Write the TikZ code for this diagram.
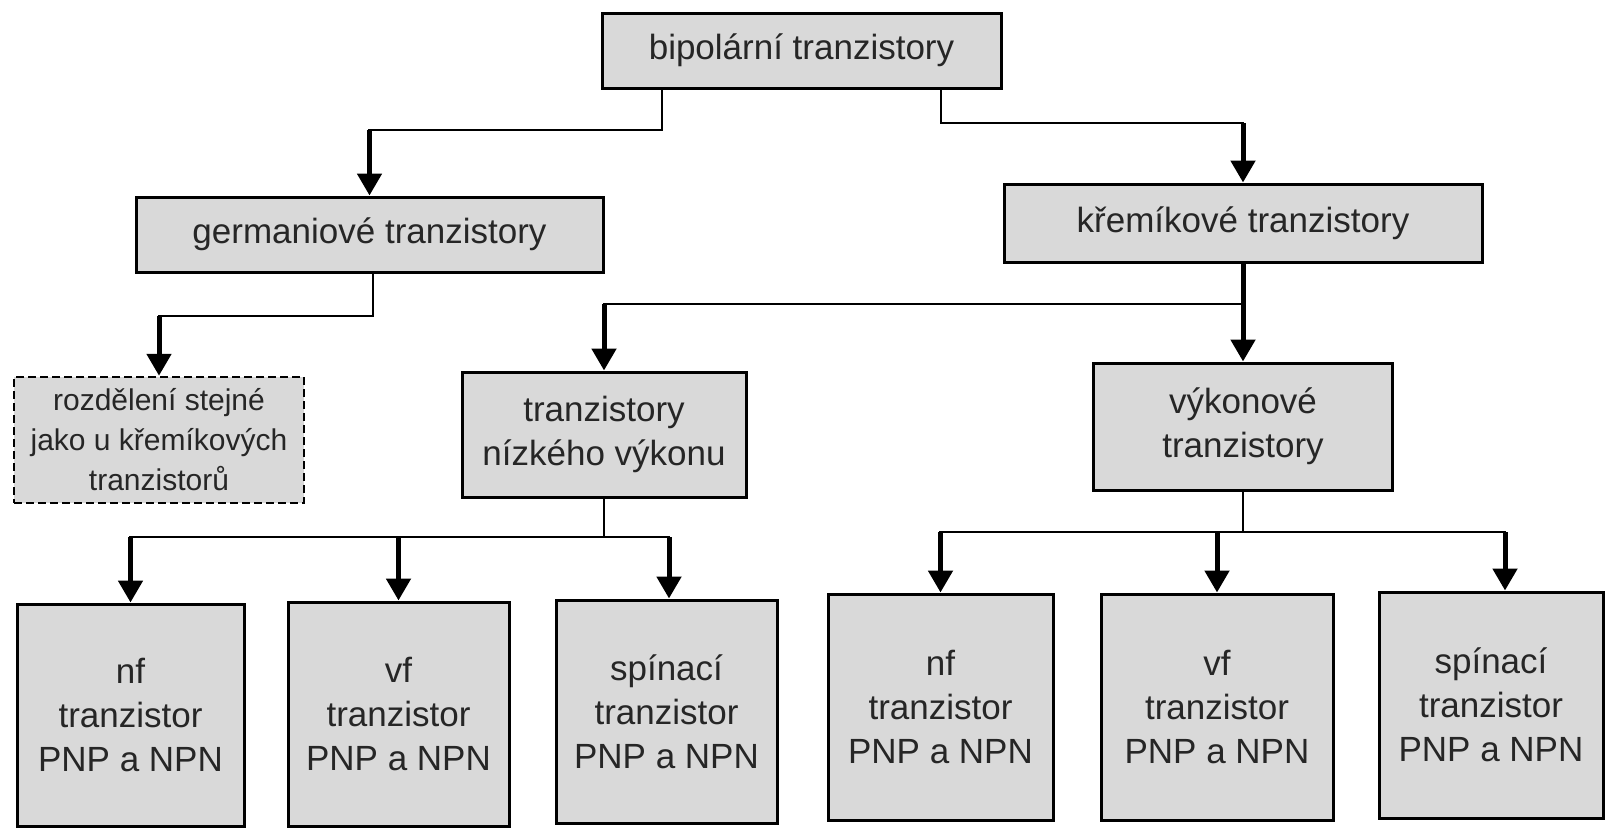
\documentclass[tikz,border=0pt]{standalone}
\usepackage{fontspec}
\setmainfont{Liberation Sans}
\usetikzlibrary{arrows.meta}
\definecolor{boxfill}{HTML}{D9D9D9}
\definecolor{ink}{HTML}{262626}
\begin{document}
\begin{tikzpicture}[x=1pt,y=-1pt,
  box/.style={draw=black, line width=3pt, fill=boxfill, text=ink, align=center, inner sep=0pt,
    font=\fontsize{35}{44}\selectfont},
  dbox/.style={box, line width=2.5pt, dash pattern=on 8pt off 4pt, font=\fontsize{30}{40}\selectfont},
  sz/.style 2 args={minimum width=#1, minimum height=#2},
  conn/.style={line width=2.2pt, line cap=rect},
  arr/.style={line width=5pt, -{Triangle[width=24pt,length=22pt]}},
]
\useasboundingbox[fill=white] (0,0) rectangle (1613,836);

% boxes
\node[box, sz={399pt}{75pt}] (T) at (801.5,50.5) {bipolární tranzistory};
\node[box, sz={467pt}{75pt}] (G) at (369.5,234.5) {germaniové tranzistory};
\node[box, sz={478pt}{78pt}] (K) at (1243,223) {křemíkové tranzistory};
\node[dbox, sz={290pt}{126pt}] (D) at (159,440) {rozdělení stejné\\jako u křemíkových\\tranzistorů};
\node[box, sz={284pt}{125pt}] (N) at (604,434.5) {tranzistory\\nízkého výkonu};
\node[box, sz={299pt}{127pt}] (V) at (1243,426.5) {výkonové\\tranzistory};

\node[box, sz={227pt}{222pt}] (b1) at (130.5,715) {nf\\tranzistor\\PNP a NPN};
\node[box, sz={221pt}{224pt}] (b2) at (398.5,714) {vf\\tranzistor\\PNP a NPN};
\node[box, sz={221pt}{223pt}] (b3) at (666.5,711.5) {spínací\\tranzistor\\PNP a NPN};
\node[box, sz={225pt}{226pt}] (b4) at (940.5,707) {nf\\tranzistor\\PNP a NPN};
\node[box, sz={232pt}{226pt}] (b5) at (1217,707) {vf\\tranzistor\\PNP a NPN};
\node[box, sz={224pt}{226pt}] (b6) at (1491,705) {spínací\\tranzistor\\PNP a NPN};

% junction points
\coordinate (jTG) at (369.5,130);
\coordinate (jTK) at (1243,123);
\coordinate (jGD) at (159,316);
\coordinate (jKV) at (1243,304);
\coordinate (jKN) at (604,304);
\coordinate (jN) at (604,537);
\coordinate (h1) at (130.5,537);
\coordinate (h3) at (669,537);
\coordinate (jV) at (1243,532);
\coordinate (h4) at (940.5,532);
\coordinate (h6) at (1505,532);

% connectors
\draw[conn] ([xshift=-139.5pt]T.south) |- (jTG);
\draw[arr] (jTG) -- (G.north);
\draw[conn] ([xshift=139.5pt]T.south) |- (jTK);
\draw[arr] (jTK) -- (K.north);

\draw[conn] ([xshift=3.5pt]G.south) |- (jGD);
\draw[arr] (jGD) -- (D.north);

\draw[arr] (K.south) -- (V.north);
\draw[conn] (jKV) -- (jKN);
\draw[arr] (jKN) -- (N.north);

\draw[conn] (N.south) -- (jN);
\draw[conn] (h1) -- (h3);
\draw[arr] (h1) -- (b1.north);
\draw[arr] (b2.north |- jN) -- (b2.north);
\draw[arr] (h3) -- ([xshift=2.5pt]b3.north);

\draw[conn] (V.south) -- (jV);
\draw[conn] (h4) -- (h6);
\draw[arr] (h4) -- (b4.north);
\draw[arr] (b5.north |- jV) -- (b5.north);
\draw[arr] (h6) -- ([xshift=14pt]b6.north);
\end{tikzpicture}
\end{document}
